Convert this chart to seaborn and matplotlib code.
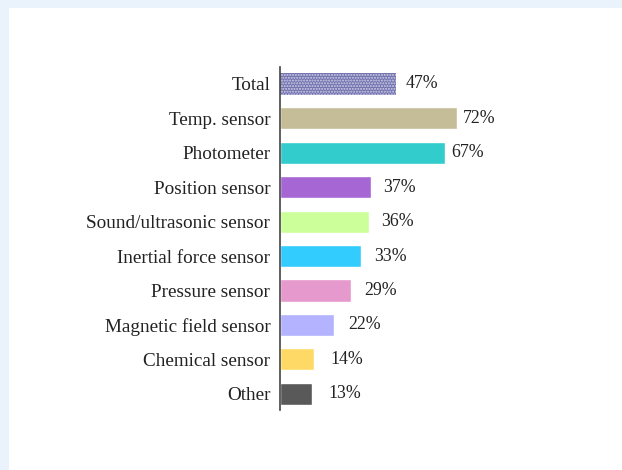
import numpy as np
import pandas as pd
import matplotlib
matplotlib.use("Agg")
import matplotlib.pyplot as plt
import seaborn as sns
from matplotlib.patches import Rectangle

categories = ["Total", "Temp. sensor", "Photometer", "Position sensor",
              "Sound/ultrasonic sensor", "Inertial force sensor", "Pressure sensor",
              "Magnetic field sensor", "Chemical sensor", "Other"]
values = [47, 72, 67, 37, 36, 33, 29, 22, 14, 13]
colors = ["#7272ac", "#c5bd98", "#33cccc", "#a666d4", "#ccff99",
          "#33ccff", "#e699cc", "#b3b3ff", "#ffd966", "#595959"]

df = pd.DataFrame({"sensor": categories, "share": values})

sns.set_style("white")
plt.rcParams["font.family"] = ["Liberation Serif", "DejaVu Serif"]
plt.rcParams["hatch.linewidth"] = 1.0

fig = plt.figure(figsize=(6.22, 4.70), dpi=100)
fig.patch.set_facecolor("#eaf2fc")
fig.patches.append(Rectangle((9 / 622, 0), 1, 1 - 8 / 470, transform=fig.transFigure,
                             facecolor="white", edgecolor="none", zorder=-10))

ax = fig.add_axes([280 / 622, 60 / 470, 320 / 622, 343 / 470])
ax.set_facecolor("none")
sns.barplot(data=df, y="sensor", x="share", hue="sensor", palette=colors,
            legend=False, width=0.64, ax=ax, saturation=1)

bars = ax.patches
bars[0].set_hatch("......")
bars[0].set_edgecolor("#d0d0ee")
bars[0].set_linewidth(0)

for i, v in enumerate(values):
    ax.text(0.93 * v + 7.4, i, f"{v}%", va="center", ha="left",
            fontsize=12.8, color="#222222")

ax.set_xlim(0, 130)
ax.set_ylim(9.47, -0.49)
ax.set_xlabel("")
ax.set_ylabel("")
ax.set_xticks([])
ax.tick_params(axis="y", length=0, pad=7, labelsize=13.8, labelcolor="#222222")
for side in ["top", "right", "bottom"]:
    ax.spines[side].set_visible(False)
ax.spines["left"].set_color("#444444")
ax.spines["left"].set_linewidth(1.2)

fig.savefig("out.png", dpi=100, facecolor=fig.get_facecolor())
